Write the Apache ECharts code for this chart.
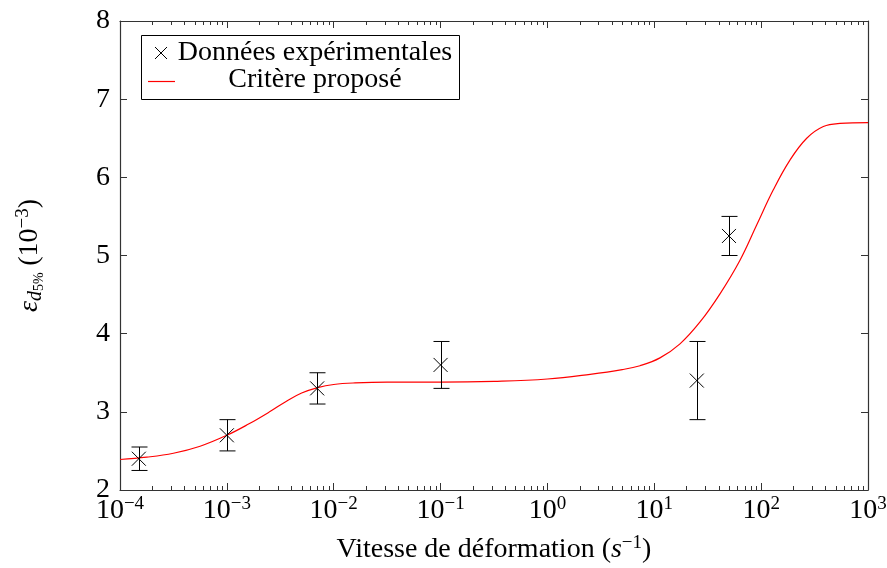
<!DOCTYPE html>
<html>
<head>
<meta charset="utf-8">
<script src="https://cdn.jsdelivr.net/npm/echarts@6/dist/echarts.min.js"></script>
<style>
  html, body { margin: 0; padding: 0; background: #fff; }
  #chart { width: 887px; height: 568px; }
</style>
</head>
<body>
<div id="chart"></div>
<script>
// Experimental measurements: strain rate (s^-1), mean strain (1e-3), half error bar
const expRates = [1.5e-4, 1e-3, 7e-3, 0.1, 25, 50];
const expStrain = [2.4, 2.7, 3.3, 3.6, 3.4, 5.25];
const expError = [0.15, 0.2, 0.2, 0.3, 0.5, 0.25];

// Proposed criterion curve
const critRates = [1e-4, 1.78e-4, 3.16e-4, 5.62e-4, 1e-3, 1.58e-3, 2.51e-3, 3.55e-3, 5.01e-3, 7.08e-3,
  1e-2, 1.58e-2, 3.16e-2, 0.1, 0.316, 1, 2.51, 5.01, 7.35, 11.3, 17.4, 26.8, 41.2, 63.4, 90.8,
  130, 186, 267, 382, 547, 1000];
const critStrain = [2.39, 2.42, 2.47, 2.56, 2.70, 2.84, 3.00, 3.13, 3.24, 3.31,
  3.35, 3.37, 3.38, 3.38, 3.39, 3.42, 3.48, 3.54, 3.59, 3.69, 3.87, 4.15, 4.51, 4.94, 5.39,
  5.84, 6.22, 6.50, 6.65, 6.69, 6.70];

// Axis extents and ticks
const xMin = 1e-4, xMax = 1e3;
const yMin = 2, yMax = 8, yStep = 1;
const decadeStarts = [1e-4, 1e-3, 1e-2, 1e-1, 1, 10, 100];
const minorFactors = [2, 3, 4, 5, 6, 7, 8, 9];

const FONT = '"Liberation Serif", "DejaVu Serif", serif';
const INK = '#000';
const FRAME = '#333';
const FS = 28;   // main text size
const FSUP = 19; // superscript size

const minorTicks = [];
decadeStarts.forEach(d => minorFactors.forEach(f => minorTicks.push([d * f])));

const expBars = expRates.map((r, i) => [r, expStrain[i] - expError[i], expStrain[i] + expError[i]]);
const expPoints = expRates.map((r, i) => [r, expStrain[i]]);
const critLine = critRates.map((r, i) => [r, critStrain[i]]);

function supDigits(v) {
  const e = Math.round(Math.log10(v));
  return (e < 0 ? '\u2212' + (-e) : String(e));
}

const supStyle = { fontFamily: FONT, fontSize: FSUP, color: INK, lineHeight: 19, verticalAlign: 'top', padding: [0, 0, 13, 0] };
const baseStyle = { fontFamily: FONT, fontSize: FS, color: INK, lineHeight: 32 };

const chart = echarts.init(document.getElementById('chart'), null, { renderer: 'canvas' });

const lineStyle = { stroke: INK, lineWidth: 1 };

const frameAxis = {
  axisLine: { show: true, onZero: false, lineStyle: { color: FRAME, width: 1.2 } },
  axisTick: { show: true, inside: true, length: 7, lineStyle: { color: FRAME } },
  splitLine: { show: false }
};

chart.setOption({
  animation: false,
  backgroundColor: '#fff',
  grid: { left: 120, right: 19, top: 21, bottom: 78, containLabel: false, outerBoundsMode: 'none' },
  xAxis: [
    Object.assign({
      type: 'log', logBase: 10, min: xMin, max: xMax, position: 'bottom',
      axisLabel: {
        margin: 5,
        formatter: v => '{b|10}{s|' + supDigits(v) + '}',
        rich: { b: baseStyle, s: supStyle }
      },
      name: '{t|Vitesse de déformation (}{i|s}{s|\u22121}{t|)}',
      nameLocation: 'middle', nameGap: 44,
      nameTextStyle: {
        rich: {
          t: baseStyle,
          i: Object.assign({}, baseStyle, { fontStyle: 'italic' }),
          s: supStyle
        }
      }
    }, frameAxis),
    Object.assign({
      type: 'log', logBase: 10, min: xMin, max: xMax, position: 'top',
      axisLabel: { show: false }
    }, frameAxis)
  ],
  yAxis: [
    Object.assign({
      type: 'value', min: yMin, max: yMax, interval: yStep, position: 'left',
      axisLabel: { margin: 10, fontFamily: FONT, fontSize: FS, color: INK },
      name: '{e|\u03b5}{d|d}{p|5%}  {t|(10}{s|\u22123}{t|)}',
      nameLocation: 'middle', nameRotate: 90, nameGap: 74,
      nameTextStyle: {
        rich: {
          e: Object.assign({}, baseStyle, { fontStyle: 'italic' }),
          d: { fontFamily: FONT, fontSize: 20, fontStyle: 'italic', color: INK, lineHeight: 20, verticalAlign: 'bottom', padding: [11, 0, 0, 0] },
          p: { fontFamily: FONT, fontSize: 14, color: INK, lineHeight: 14, verticalAlign: 'bottom', padding: [16, 0, 0, 0] },
          t: baseStyle,
          s: supStyle
        }
      }
    }, frameAxis),
    Object.assign({
      type: 'value', min: yMin, max: yMax, interval: yStep, position: 'right',
      axisLabel: { show: false }
    }, frameAxis)
  ],
  series: [
    {
      // minor log ticks on bottom and top axes
      type: 'custom', silent: true, xAxisIndex: 0, yAxisIndex: 0, clip: false,
      data: minorTicks,
      encode: { x: 0 },
      renderItem(params, api) {
        const v = api.value(0);
        const b = api.coord([v, yMin]);
        const t = api.coord([v, yMax]);
        const x = Math.round(b[0]) + 0.5;
        const st = { stroke: FRAME, lineWidth: 1 };
        return {
          type: 'group', children: [
            { type: 'line', shape: { x1: x, y1: b[1], x2: x, y2: b[1] - 4 }, style: st },
            { type: 'line', shape: { x1: x, y1: t[1], x2: x, y2: t[1] + 4 }, style: st }
          ]
        };
      }
    },
    {
      name: 'Critère proposé',
      type: 'line', xAxisIndex: 0, yAxisIndex: 0,
      data: critLine, smooth: 0.4, smoothConstraint: false, showSymbol: false, symbol: 'none',
      lineStyle: { color: '#ff0000', width: 1.2 }, z: 3
    },
    {
      // error bars
      type: 'custom', xAxisIndex: 0, yAxisIndex: 0, z: 4,
      data: expBars,
      encode: { x: 0, y: [1, 2] },
      renderItem(params, api) {
        const x = api.value(0);
        const lo = api.coord([x, api.value(1)]);
        const hi = api.coord([x, api.value(2)]);
        const cx = Math.round(lo[0]) + 0.5;
        const cap = 8;
        return {
          type: 'group', children: [
            { type: 'line', shape: { x1: cx, y1: lo[1], x2: cx, y2: hi[1] }, style: lineStyle },
            { type: 'line', shape: { x1: cx - cap, y1: lo[1], x2: cx + cap, y2: lo[1] }, style: lineStyle },
            { type: 'line', shape: { x1: cx - cap, y1: hi[1], x2: cx + cap, y2: hi[1] }, style: lineStyle }
          ]
        };
      }
    },
    {
      name: 'Données expérimentales',
      type: 'custom', xAxisIndex: 0, yAxisIndex: 0, z: 5,
      data: expPoints,
      encode: { x: 0, y: 1 },
      renderItem(params, api) {
        const p = api.coord([api.value(0), api.value(1)]);
        const h = 7;
        return {
          type: 'group', children: [
            { type: 'line', shape: { x1: p[0] - h, y1: p[1] - h, x2: p[0] + h, y2: p[1] + h }, style: lineStyle },
            { type: 'line', shape: { x1: p[0] - h, y1: p[1] + h, x2: p[0] + h, y2: p[1] - h }, style: lineStyle }
          ]
        };
      }
    }
  ],
  graphic: [
    {
      type: 'group', left: 141, top: 35, z: 100,
      children: [
        { type: 'rect', shape: { x: 0.5, y: 0.5, width: 318, height: 64 }, style: { fill: '#fff', stroke: INK, lineWidth: 1 } },
        { type: 'line', shape: { x1: 14, y1: 12, x2: 26, y2: 24 }, style: { stroke: INK, lineWidth: 1 } },
        { type: 'line', shape: { x1: 14, y1: 24, x2: 26, y2: 12 }, style: { stroke: INK, lineWidth: 1 } },
        { type: 'text', x: 174, y: 18, style: { text: 'Données expérimentales', fontFamily: FONT, fontSize: FS, fill: INK, align: 'center', verticalAlign: 'middle' } },
        { type: 'line', shape: { x1: 7, y1: 46.5, x2: 34, y2: 46.5 }, style: { stroke: '#ff0000', lineWidth: 1.2 } },
        { type: 'text', x: 174, y: 45, style: { text: 'Critère proposé', fontFamily: FONT, fontSize: FS, fill: INK, align: 'center', verticalAlign: 'middle' } }
      ]
    }
  ]
});
</script>
</body>
</html>
